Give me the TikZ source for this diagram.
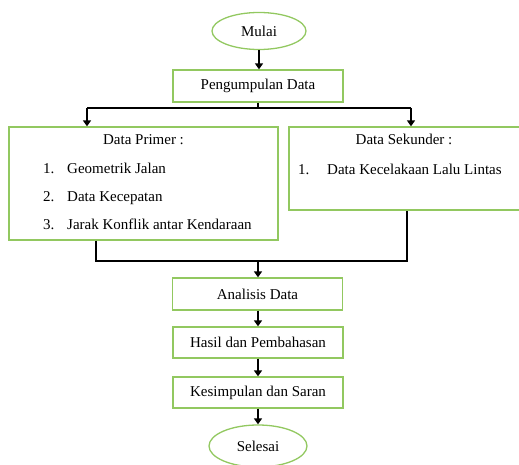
\documentclass[tikz,border=0pt]{standalone}
\usepackage{fontspec}
\setmainfont{Liberation Serif}
\usetikzlibrary{arrows.meta,shapes.geometric}
\definecolor{boxgreen}{RGB}{146,200,96}
\begin{document}
\begin{tikzpicture}[x=1pt,y=-1pt,
 every node/.style={font=\fontsize{15}{18}\selectfont},
 gbox/.style={draw=boxgreen,line width=1.3pt,rectangle,minimum width=170pt,minimum height=32pt,inner sep=0pt},
 gell/.style={draw=boxgreen,line width=1.3pt,ellipse,minimum width=94pt,minimum height=37pt,inner sep=0pt},
 bigbox/.style={draw=boxgreen,line width=1.3pt,rectangle,inner sep=0pt},
 txt/.style={inner sep=0pt,anchor=mid west},
 ttl/.style={inner sep=0pt,anchor=mid},
 flow/.style={line width=2.6pt,-{Triangle[length=6pt,width=8pt]}},
 link/.style={line width=1.4pt},
]
\useasboundingbox (0,0) rectangle (519,465);
\clip (0,0) rectangle (519,465);
\node[gell] (mulai) at (259,31) {Mulai};
\node[gbox] (kumpul) at (258,86) {Pengumpulan Data};
\node[bigbox,minimum width=269pt,minimum height=113pt] (primer) at (143.5,183.5) {};
\node[bigbox,minimum width=232pt,minimum height=83pt] (sekunder) at (405,168.5) {};
\node[ttl] (tp) at (143.5,142) {Data Primer :};
\node[txt] (p1n) at (43,171) {1.};
\node[txt] (p1) at (67,171) {Geometrik Jalan};
\node[txt] (p2n) at (43,199) {2.};
\node[txt] (p2) at (67,199) {Data Kecepatan};
\node[txt] (p3n) at (43,227) {3.};
\node[txt] (p3) at (67,227) {Jarak Konflik antar Kendaraan};
\node[ttl] (ts) at (404,142) {Data Sekunder :};
\node[txt] (s1n) at (298,172) {1.};
\node[txt] (s1) at (327,172) {Data Kecelakaan Lalu Lintas};
\node[gbox] (analisis) at (257.5,294) {Analisis Data};
\node[gbox,minimum height=31pt] (hasil) at (258,342.5) {Hasil dan Pembahasan};
\node[gbox,minimum height=31pt] (kes) at (258,392.5) {Kesimpulan dan Saran};
\node[gell,minimum width=98pt,minimum height=42pt] (selesai) at (258,446) {Selesai};
\coordinate (split) at (258,108);
\coordinate (jl) at (87,108);
\coordinate (jr) at (411,108);
\coordinate (ml) at (96,261);
\coordinate (mr) at (407,261);
\coordinate (merge) at (258,261);
\draw[flow] (mulai.south) -- (mulai.south |- kumpul.north);
\draw[link] (kumpul.south) -- (split);
\draw[link] (jl) -- (jr);
\draw[flow] (jl) -- (jl |- primer.north);
\draw[flow] (jr) -- (jr |- sekunder.north);
\draw[link] (primer.south -| ml) -- (ml) -- (mr) -- (sekunder.south -| mr);
\draw[flow] (merge) -- (analisis.north -| merge);
\draw[flow] (analisis.south -| merge) -- (hasil.north -| merge);
\draw[flow] (hasil.south -| merge) -- (kes.north -| merge);
\draw[flow] (kes.south -| merge) -- (selesai.north);
\end{tikzpicture}
\end{document}
